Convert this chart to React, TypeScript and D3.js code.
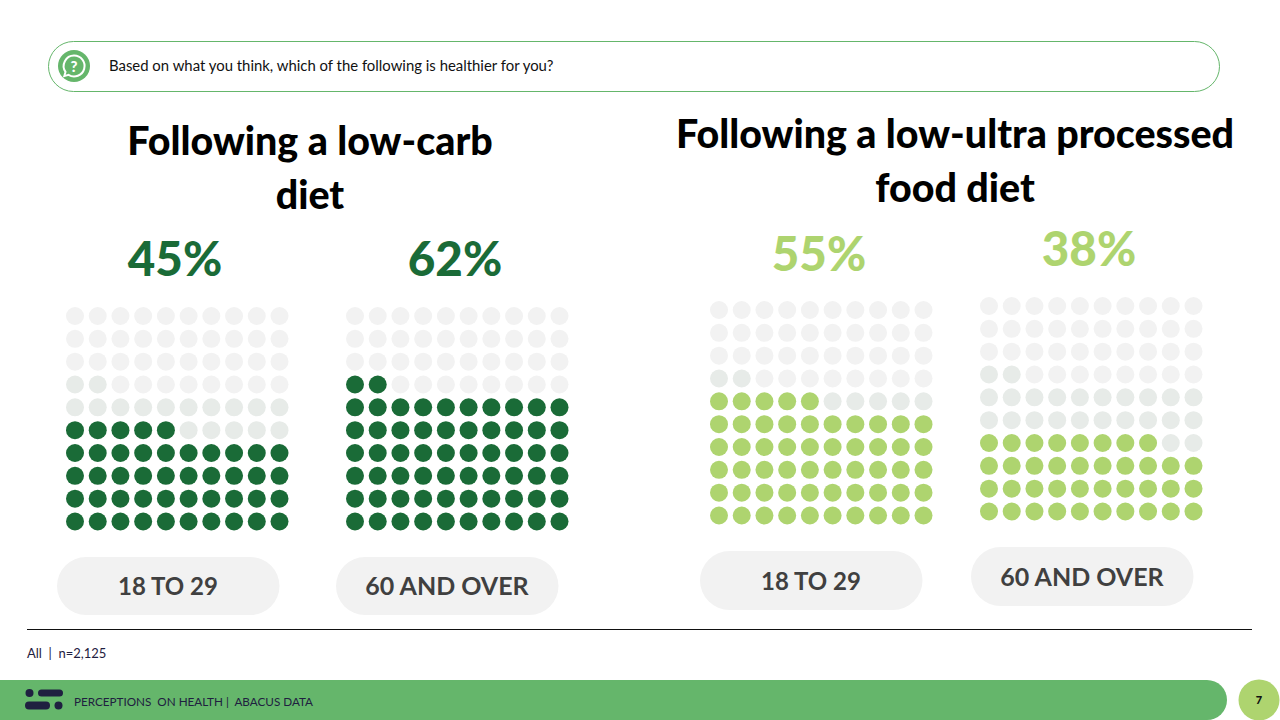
import * as d3 from "d3";

const question = "Based on what you think, which of the following is healthier for you?";
const titleLeft = ["Following a low-carb", "diet"];
const titleRight = ["Following a low-ultra processed", "food diet"];
const groups = ["18 TO 29", "60 AND OVER", "18 TO 29", "60 AND OVER"];
const percents = [45, 62, 55, 38];
const referenceLevel = 62;
const footerNote = "PERCEPTIONS  ON HEALTH |  ABACUS DATA";
const sampleNote = "All  |  n=2,125";

const DARK_GREEN = "#1a6b37";
const LIGHT_GREEN = "#aed46f";
const BAND_GREEN = "#65b66b";
const GREY_MID = "#e7ebe8";
const GREY_LIGHT = "#f2f2f2";
const NAVY = "#1f2040";
const FONT = "Lato, 'Open Sans', sans-serif";

const panels = [
  { x0: 75, y0: 316, pctX: 175, pctY: 276, pillX: 57, pillY: 557, pillH: 58, color: DARK_GREEN },
  { x0: 355, y0: 316, pctX: 455, pctY: 276, pillX: 336, pillY: 557, pillH: 58, color: DARK_GREEN },
  { x0: 719, y0: 310, pctX: 819, pctY: 271, pillX: 700, pillY: 551, pillH: 59, color: LIGHT_GREEN },
  { x0: 989, y0: 306, pctX: 1089, pctY: 266, pillX: 971, pillY: 547, pillH: 59, color: LIGHT_GREEN },
];

const cells = d3.range(100);
const colScale = d3.scaleLinear().domain([0, 9]).range([0, 204.5]);
const rowScale = d3.scaleLinear().domain([0, 9]).range([205.5, 0]);

function dotColor(i: number, value: number, color: string) {
  if (i < value) return color;
  if (i < referenceLevel) return GREY_MID;
  return GREY_LIGHT;
}

function Waffle({ panel, value, group }: { panel: (typeof panels)[number]; value: number; group: string }) {
  return (
    <g>
      <text
        x={panel.pctX}
        y={panel.pctY}
        textAnchor="middle"
        fontSize={47.5}
        fontWeight={900}
        fill={panel.color}
      >
        {value}%
      </text>
      <g transform={`translate(${panel.x0}, ${panel.y0})`}>
        {cells.map((i) => (
          <circle
            key={i}
            cx={colScale(i % 10)}
            cy={rowScale(Math.floor(i / 10))}
            r={9}
            fill={dotColor(i, value, panel.color)}
          />
        ))}
      </g>
      <rect
        x={panel.pillX}
        y={panel.pillY}
        width={222.5}
        height={panel.pillH}
        rx={panel.pillH / 2}
        fill={GREY_LIGHT}
      />
      <text
        x={panel.pillX + 111}
        y={panel.pillY + panel.pillH / 2 + 9}
        textAnchor="middle"
        fontSize={group.length < 10 ? 24 : 25}
        fontWeight={700}
        fill="#404040"
      >
        {group}
      </text>
    </g>
  );
}

export default function App() {
  return (
    <svg
      width={1280}
      height={720}
      fontFamily={FONT}
      style={{ position: "fixed", left: 0, top: 0, display: "block", background: "#fff" }}
    >
      {/* Question box */}
      <rect x={48.5} y={41.5} width={1171} height={50} rx={25} fill="#fff" stroke={BAND_GREEN} />
      <circle cx={74} cy={66} r={16} fill={BAND_GREEN} />
      <path
        d="M74 55.5a10.5 10.5 0 1 1-5.5 19.4l-4.2 1.2 1.2-4.2A10.5 10.5 0 0 1 74 55.5z"
        fill="none"
        stroke="#fff"
        strokeWidth={2}
      />
      <text x={74} y={71.5} textAnchor="middle" fontSize={15} fontWeight={900} fill="#fff">
        ?
      </text>
      <text x={109} y={71} fontSize={14.9} fill="#111">
        {question}
      </text>

      {/* Titles */}
      <g fontSize={39.4} fontWeight={900} fill="#000" textAnchor="middle">
        <text x={310} y={155}>{titleLeft[0]}</text>
        <text x={310} y={209}>{titleLeft[1]}</text>
        <text x={955} y={148}>{titleRight[0]}</text>
        <text x={955} y={202}>{titleRight[1]}</text>
      </g>

      {panels.map((panel, i) => (
        <Waffle key={i} panel={panel} value={percents[i]} group={groups[i]} />
      ))}

      {/* Footer */}
      <line x1={27} x2={1252} y1={629.5} y2={629.5} stroke="#111" />
      <text x={27} y={658} fontSize={13} fill={NAVY} xmlSpace="preserve">
        {sampleNote}
      </text>
      <path d="M0 680H1207a20 20 0 0 1 0 40H0z" fill={BAND_GREEN} />
      <g fill={NAVY}>
        <circle cx={29.5} cy={693} r={4} />
        <rect x={38} y={689.5} width={25} height={7} rx={3.5} />
        <rect x={25} y={701.5} width={25} height={8} rx={4} />
        <circle cx={58.5} cy={705.5} r={4} />
      </g>
      <text x={74} y={705.5} fontSize={11.7} fill={NAVY} xmlSpace="preserve">
        {footerNote}
      </text>
      <circle cx={1259} cy={700} r={20.5} fill={LIGHT_GREEN} />
      <text x={1259} y={704} textAnchor="middle" fontSize={11} fontWeight={900} fill="#111">
        7
      </text>
    </svg>
  );
}
